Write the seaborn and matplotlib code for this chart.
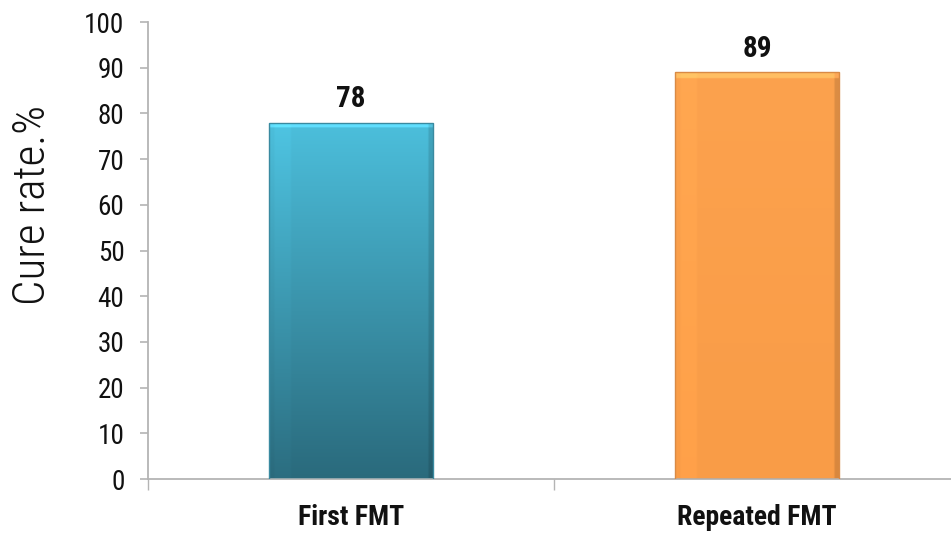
import numpy as np
import pandas as pd
import seaborn as sns
import matplotlib
matplotlib.use("Agg")
import matplotlib.pyplot as plt
from matplotlib import font_manager as fm
from matplotlib.colors import to_rgb

# Data
categories = ["First FMT", "Repeated FMT"]
cure_rate = [78, 89]
y_ticks = [0, 10, 20, 30, 40, 50, 60, 70, 80, 90, 100]

sns.set_theme(style="white")

names = {f.name for f in fm.fontManager.ttflist}
cond = "Roboto Condensed" if "Roboto Condensed" in names else "DejaVu Sans"
plt.rcParams["font.family"] = [cond, "DejaVu Sans"]

fig = plt.figure(figsize=(9.51, 5.33), dpi=100)
ax = fig.add_axes([148 / 951, 54 / 533, 812 / 951, 457 / 533])

df = pd.DataFrame({"group": categories, "rate": cure_rate})
sns.barplot(data=df, x="group", y="rate", ax=ax, width=0.404,
            color="#4bb8d6", saturation=1)

ax.set_xlim(-0.5, 1.5)
ax.set_ylim(0, 100)

# Gradient fills, clipped to each bar
grad = [
    (to_rgb("#4cbfdc"), to_rgb("#2a6a7c")),
    (to_rgb("#fca24e"), to_rgb("#f99c47")),
]
edge_cols = ["#3a8aa0", "#d98a45"]
for patch, (top, bot), ec in zip(ax.patches, grad, edge_cols):
    x0, w, h = patch.get_x(), patch.get_width(), patch.get_height()
    ny, nx = 200, 60
    t = np.linspace(0, 1, ny)[:, None, None]
    img = (1 - t) * np.array(top) + t * np.array(bot)
    img = np.repeat(img, nx, axis=1)
    # soft bevel: darker right edge, lighter left strip
    xs = np.linspace(0, 1, nx)
    shade = np.ones(nx)
    shade[xs > 0.97] = 0.87
    shade[(xs > 0.03) & (xs < 0.12)] = 1.03
    img = np.clip(img * shade[None, :, None], 0, 1)
    # light top rim
    img[:3] = np.clip(img[:3] * 1.1 + 0.05, 0, 1)
    im = ax.imshow(img, extent=[x0, x0 + w, 0, h], aspect="auto",
                   origin="upper", zorder=2)
    im.set_clip_path(patch)
    patch.set_facecolor("none")
    patch.set_edgecolor(ec)
    patch.set_linewidth(1.0)
    patch.set_zorder(3)

ax.bar_label(ax.containers[0], labels=[str(v) for v in cure_rate],
             padding=7, fontsize=21, fontweight="bold", color="#111111")

# Axes styling
for s in ["top", "right"]:
    ax.spines[s].set_visible(False)
for s in ["left", "bottom"]:
    ax.spines[s].set_color("#b4b4b4")
    ax.spines[s].set_linewidth(1.3)

ax.set_yticks(y_ticks)
ax.tick_params(axis="y", which="major", length=6, width=1.2, color="#b4b4b4",
               direction="out", left=True, pad=11, labelsize=19.5,
               labelcolor="#111111")
ax.set_xticks([0, 1])
ax.set_xticklabels(categories, fontsize=20, fontweight="bold", color="#111111")
ax.tick_params(axis="x", which="major", length=0, pad=18)
ax.set_xticks([-0.5, 0.5, 1.5], minor=True)
ax.tick_params(axis="x", which="minor", length=8, width=1.0, color="#b4b4b4",
               direction="out", bottom=True)

ax.set_xlabel("")
ax.set_ylabel("Cure rate.%", fontsize=32.5, fontweight="light",
              color="#111111")
ax.yaxis.set_label_coords(-0.1416, 0.600)
ax.yaxis.label.set_verticalalignment("center")

fig.savefig("out.png", dpi=100)
